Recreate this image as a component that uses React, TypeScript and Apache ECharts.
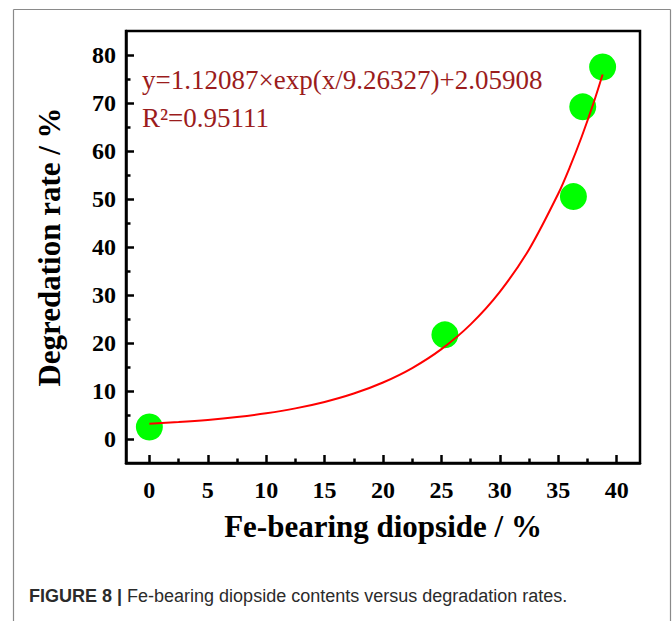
import React, { useEffect, useRef } from "react";
import * as echarts from "echarts";

// Measured points
const diopside = [0, 25.3, 36.3, 37.1, 38.8];
const degradation = [2.5, 21.7, 50.5, 69.2, 77.5];

// Fitted curve
const fitX = [0, 2.5, 5, 7.5, 10, 12.5, 15, 17.5, 20, 22.5, 25, 27.5, 30, 32.5, 35, 36, 37, 38, 38.8];
const fitY = [3.18, 3.53, 3.98, 4.58, 5.36, 6.38, 7.72, 9.47, 11.77, 14.78, 18.72, 23.88, 30.65, 39.5, 51.1, 56.69, 62.92, 69.84, 75.95];

// Ticks
const xMajorTicks = [0, 5, 10, 15, 20, 25, 30, 35, 40];
const xMinorTicks = [2.5, 7.5, 12.5, 17.5, 22.5, 27.5, 32.5, 37.5];
const yMajorTicks = [0, 10, 20, 30, 40, 50, 60, 70, 80];
const yMinorTicks = [5, 15, 25, 35, 45, 55, 65, 75];

const equationText = "y=1.12087×exp(x/9.26327)+2.05908";
const r2Text = "R²=0.95111";
const xTitle = "Fe-bearing diopside / %";
const yTitle = "Degredation rate / %";
const captionBold = "FIGURE 8 | ";
const captionRest = "Fe-bearing diopside contents versus degradation rates.";

const SERIF = "'Liberation Serif', 'Times New Roman', serif";
const SANS = "'Liberation Sans', Arial, sans-serif";

export default function App() {
  const ref = useRef<HTMLDivElement>(null);
  useEffect(() => {
    if (!ref.current) return;
    const chart = echarts.init(ref.current, null, { renderer: "svg" });
    const X_MIN = -2, X_MAX = 42, Y_MIN = -5, Y_MAX = 85;
    const labelStyle = {
      fontFamily: SERIF,
      fontWeight: "bold" as const,
      fontSize: 24,
      color: "#000",
    };
    chart.setOption({
      animation: false,
      backgroundColor: "#fff",
      grid: {
        left: 126,
        top: 31,
        width: 514,
        height: 432,
        show: true,
        borderColor: "#000",
        borderWidth: 2.5,
        backgroundColor: "transparent",
      },
      xAxis: [
        {
          type: "value",
          min: X_MIN,
          max: X_MAX,
          position: "bottom",
          axisLine: { show: true, onZero: false, lineStyle: { color: "#000", width: 2.5 } },
          axisTick: { show: true, inside: true, length: 8, customValues: xMajorTicks, lineStyle: { color: "#000", width: 2.5 } },
          axisLabel: { ...labelStyle, margin: 15, customValues: xMajorTicks },
          splitLine: { show: false },
          name: xTitle,
          nameLocation: "middle",
          nameGap: 48,
          nameTextStyle: { fontFamily: SERIF, fontWeight: "bold", fontSize: 31, color: "#000" },
        },
        {
          type: "value",
          min: X_MIN,
          max: X_MAX,
          position: "bottom",
          axisLine: { show: false, onZero: false },
          axisTick: { show: true, inside: true, length: 4.5, customValues: xMinorTicks, lineStyle: { color: "#000", width: 2.5 } },
          axisLabel: { show: false },
          splitLine: { show: false },
        },
      ],
      yAxis: [
        {
          type: "value",
          min: Y_MIN,
          max: Y_MAX,
          position: "left",
          axisLine: { show: true, onZero: false, lineStyle: { color: "#000", width: 2.5 } },
          axisTick: { show: true, inside: true, length: 8, customValues: yMajorTicks, lineStyle: { color: "#000", width: 2.5 } },
          axisLabel: { ...labelStyle, margin: 10, customValues: yMajorTicks },
          splitLine: { show: false },
          name: yTitle,
          nameLocation: "middle",
          nameGap: 61,
          nameTextStyle: { fontFamily: SERIF, fontWeight: "bold", fontSize: 31, color: "#000" },
        },
        {
          type: "value",
          min: Y_MIN,
          max: Y_MAX,
          position: "left",
          axisLine: { show: false, onZero: false },
          axisTick: { show: true, inside: true, length: 4.5, customValues: yMinorTicks, lineStyle: { color: "#000", width: 2.5 } },
          axisLabel: { show: false },
          splitLine: { show: false },
        },
      ],
      series: [
        {
          type: "scatter",
          xAxisIndex: 0,
          yAxisIndex: 0,
          data: diopside.map((x, i) => [x, degradation[i]]),
          symbol: "circle",
          symbolSize: 27,
          itemStyle: { color: "#00ff00", opacity: 1 },
          z: 2,
        },
        {
          type: "line",
          xAxisIndex: 0,
          yAxisIndex: 0,
          data: fitX.map((x, i) => [x, fitY[i]]),
          smooth: 0.3,
          showSymbol: false,
          symbol: "none",
          lineStyle: { color: "#ff0000", width: 2 },
          z: 3,
        },
      ],
      graphic: [
        { type: "line", shape: { x1: 13.5, y1: 9.5, x2: 670.5, y2: 9.5 }, style: { stroke: "#8a8a8a", lineWidth: 1.2 } },
        { type: "line", shape: { x1: 13.5, y1: 9.5, x2: 13.5, y2: 621 }, style: { stroke: "#8a8a8a", lineWidth: 1.2 } },
        { type: "line", shape: { x1: 670.5, y1: 9.5, x2: 670.5, y2: 621 }, style: { stroke: "#8a8a8a", lineWidth: 1.2 } },
        {
          type: "text",
          left: 142,
          top: 66,
          style: { text: equationText, fontFamily: SERIF, fontSize: 27, fill: "#9b1c1c" },
          z: 10,
        },
        {
          type: "text",
          left: 142,
          top: 104,
          style: { text: r2Text, fontFamily: SERIF, fontSize: 27, fill: "#9b1c1c" },
          z: 10,
        },
        {
          type: "text",
          left: 29,
          top: 587,
          style: {
            text: "{b|" + captionBold + "}{r|" + captionRest + "}",
            rich: {
              b: { fontFamily: SANS, fontWeight: "bold", fontSize: 18, fill: "#2b2b2b" },
              r: { fontFamily: SANS, fontSize: 18, fill: "#2b2b2b" },
            },
          },
        },
      ],
    });
    return () => chart.dispose();
  }, []);
  return (
    <div
      ref={ref}
      style={{ position: "fixed", left: 0, top: 0, width: 672, height: 621, background: "#fff" }}
    />
  );
}
